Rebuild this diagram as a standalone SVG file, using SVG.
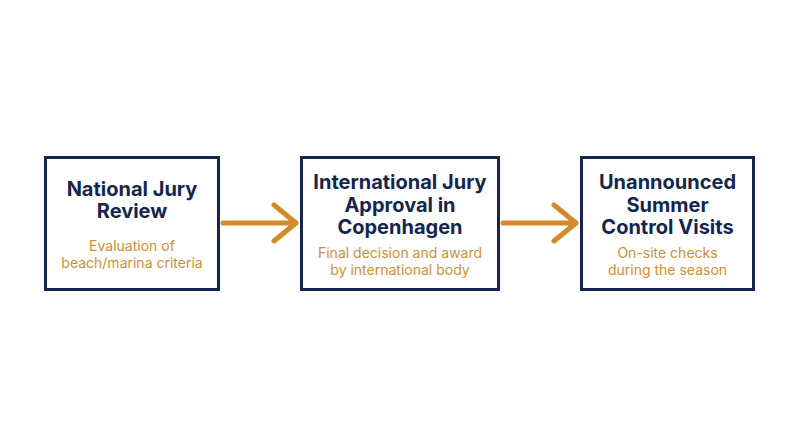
<svg xmlns="http://www.w3.org/2000/svg" width="800" height="447" viewBox="0 0 800 447">
<style>
.box{fill:#ffffff;stroke:#14264f;stroke-width:3}
.t{font-family:Inter,"Noto Sans",sans-serif;font-weight:700;font-size:20px;fill:#14264f;text-anchor:middle}
.s{font-family:Inter,"Noto Sans",sans-serif;font-weight:400;font-size:14px;fill:#d08f32;text-anchor:middle}
.c{fill:none;stroke:#d38b2a;stroke-width:5;stroke-linecap:round;stroke-linejoin:round}
</style>
<rect width="800" height="447" fill="#ffffff"/>
<g id="node1">
<rect class="box" x="45.5" y="157.5" width="173" height="132"/>
<text class="t" x="132" y="196">National Jury</text>
<text class="t" x="132" y="218">Review</text>
<text class="s" x="132" y="251">Evaluation of</text>
<text class="s" x="132" y="268">beach/marina criteria</text>
</g>
<g id="node2">
<rect class="box" x="301.5" y="157.5" width="197" height="132"/>
<text class="t" x="400" y="189">International Jury</text>
<text class="t" x="400" y="211.5">Approval in</text>
<text class="t" x="400" y="234">Copenhagen</text>
<text class="s" x="400" y="258">Final decision and award</text>
<text class="s" x="400" y="275">by international body</text>
</g>
<g id="node3">
<rect class="box" x="581.5" y="157.5" width="172" height="132"/>
<text class="t" x="667.5" y="189">Unannounced</text>
<text class="t" x="667.5" y="211.5">Summer</text>
<text class="t" x="667.5" y="234">Control Visits</text>
<text class="s" x="667.5" y="258">On-site checks</text>
<text class="s" x="667.5" y="275">during the season</text>
</g>
<g id="connectors">
<path class="c" d="M223 223 H296 M274 205 L296 223 L274 241"/>
<path class="c" d="M503 223 H576 M554 205 L576 223 L554 241"/>
</g>
</svg>
